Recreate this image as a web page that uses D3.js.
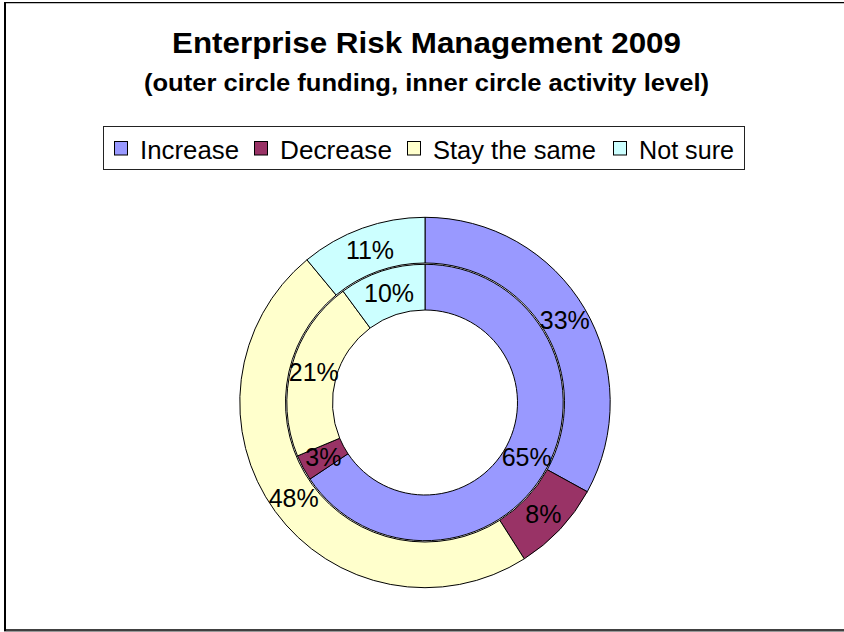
<!DOCTYPE html>
<html>
<head>
<meta charset="utf-8">
<script src="https://cdn.jsdelivr.net/npm/d3@7"></script>
<style>
  html, body { margin: 0; padding: 0; background: #fff; }
  svg { display: block; }
  text { font-family: "Liberation Sans", Arial, sans-serif; }
</style>
</head>
<body>
<svg id="chart" width="844" height="632"></svg>
<script>
// ---- Data ----
const categories = ["Increase", "Decrease", "Stay the same", "Not sure"];
const fundingValues = [33, 8, 48, 11];   // outer circle: funding
const activityValues = [65, 3, 21, 10];  // inner circle: activity level
const colors = ["#9999FF", "#993366", "#FFFFCC", "#CCFFFF"];
const titleText = "Enterprise Risk Management 2009";
const subtitleText = "(outer circle funding, inner circle activity level)";

// ---- Layout ----
const W = 844, H = 632;
const cx = 425, cy = 402.5;
const outerR = [139.5, 185.2];
const innerR = [92.5, 138.2];

const svg = d3.select("#chart");
svg.append("rect").attr("x", 0).attr("y", 0).attr("width", W).attr("height", H).attr("fill", "#fff");

// frame (extends past right edge as in reference)
svg.append("line").attr("x1", 5).attr("x2", 5).attr("y1", 2).attr("y2", 631)
  .attr("stroke", "#000").attr("stroke-width", 2);
svg.append("line").attr("x1", 4).attr("x2", W).attr("y1", 2.6).attr("y2", 2.6)
  .attr("stroke", "#000").attr("stroke-width", 1.3);
svg.append("line").attr("x1", 4).attr("x2", W).attr("y1", 630).attr("y2", 630)
  .attr("stroke", "#000").attr("stroke-width", 1.5);
svg.append("line").attr("x1", 4).attr("x2", W).attr("y1", 631.5).attr("y2", 631.5)
  .attr("stroke", "#999").attr("stroke-width", 1);

// titles
svg.append("text").attr("x", 426.5).attr("y", 52.5).attr("text-anchor", "middle")
  .attr("font-size", 29).attr("font-weight", "bold").attr("fill", "#000")
  .attr("textLength", 509).attr("lengthAdjust", "spacingAndGlyphs")
  .text(titleText);
svg.append("text").attr("x", 426.5).attr("y", 90.5).attr("text-anchor", "middle")
  .attr("font-size", 23).attr("font-weight", "bold").attr("fill", "#000")
  .attr("textLength", 565).attr("lengthAdjust", "spacingAndGlyphs")
  .text(subtitleText);

// legend
const legend = svg.append("g");
legend.append("rect").attr("x", 103.5).attr("y", 126.5).attr("width", 641).attr("height", 43)
  .attr("fill", "#fff").attr("stroke", "#222").attr("stroke-width", 1);
const legendX = [114, 254, 407, 613];
const legendTextW = [99, 112, 163, 95];
categories.forEach((c, i) => {
  legend.append("rect").attr("x", legendX[i] + 0.5).attr("y", 141.5).attr("width", 13).attr("height", 13.5)
    .attr("fill", colors[i]).attr("stroke", "#000").attr("stroke-width", 1);
  legend.append("text").attr("x", legendX[i] + 26).attr("y", 158.5)
    .attr("font-size", 25.5).attr("fill", "#000")
    .attr("textLength", legendTextW[i]).attr("lengthAdjust", "spacingAndGlyphs")
    .text(c);
});

// donut rings
const pie = d3.pie().sort(null).value(d => d.v).startAngle(0).endAngle(2 * Math.PI);
function ring(values, radii) {
  const data = values.map((v, i) => ({ v, i }));
  const arcs = pie(data);
  const arc = d3.arc().innerRadius(radii[0]).outerRadius(radii[1]);
  const g = svg.append("g").attr("transform", `translate(${cx},${cy})`);
  g.selectAll("path").data(arcs).join("path")
    .attr("d", arc)
    .attr("fill", d => colors[d.data.i])
    .attr("stroke", "#000").attr("stroke-width", 1).attr("stroke-linejoin", "round");
  g.selectAll("text").data(arcs).join("text")
    .attr("transform", d => `translate(${arc.centroid(d)})`)
    .attr("text-anchor", "middle").attr("dy", "0.36em")
    .attr("font-size", 25).attr("fill", "#000")
    .text(d => d.data.v + "%");
}
ring(fundingValues, outerR);
ring(activityValues, innerR);
</script>
</body>
</html>
